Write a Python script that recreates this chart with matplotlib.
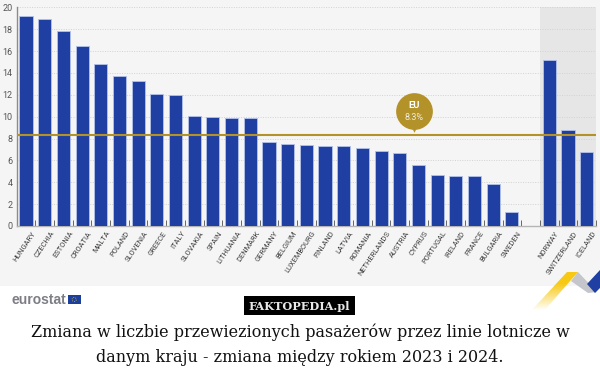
import numpy as np
import matplotlib
matplotlib.use("Agg")
import matplotlib.pyplot as plt
from matplotlib.patches import Polygon, Rectangle
from matplotlib.transforms import ScaledTranslation

# --- data ---
countries = ["HUNGARY", "CZECHIA", "ESTONIA", "CROATIA", "MALTA", "POLAND", "SLOVENIA",
             "GREECE", "ITALY", "SLOVAKIA", "SPAIN", "LITHUANIA", "DENMARK", "GERMANY",
             "BELGIUM", "LUXEMBOURG", "FINLAND", "LATVIA", "ROMANIA", "NETHERLANDS",
             "AUSTRIA", "CYPRUS", "PORTUGAL", "IRELAND", "FRANCE", "BULGARIA", "SWEDEN",
             "", "NORWAY", "SWITZERLAND", "ICELAND"]
values = [19.2, 18.9, 17.8, 16.5, 14.8, 13.7, 13.3, 12.1, 12.0, 10.1, 10.0, 9.9, 9.9, 7.7,
          7.5, 7.4, 7.3, 7.3, 7.1, 6.9, 6.7, 5.6, 4.7, 4.6, 4.6, 3.8, 1.3,
          np.nan, 15.2, 8.8, 6.8]
y_ticks = [0, 2, 4, 6, 8, 10, 12, 14, 16, 18, 20]
eu_value = 8.3
caption = ["Zmiana w liczbie przewiezionych pasażerów przez linie lotnicze w",
           "danym kraju - zmiana między rokiem 2023 i 2024."]

W, H = 600, 380
BG = "#f5f5f5"
BLUE = "#1f3fa3"
GOLD = "#b3922a"

fig = plt.figure(figsize=(W / 100, H / 100), dpi=100, facecolor="white")

# pixel canvas for everything around the chart
page = fig.add_axes([0, 0, 1, 1], zorder=0)
page.set_xlim(0, W)
page.set_ylim(H, 0)
page.axis("off")
page.add_patch(Rectangle((0, 0), W, 285.5, color=BG, lw=0))

# ==========================================
# CHART
# ==========================================
left, right, top, bottom = 16.5, 596, 7.3, 226
ax = fig.add_axes([left / W, 1 - bottom / H, (right - left) / W, (bottom - top) / H], zorder=1)
ax.patch.set_alpha(0)

x = np.arange(len(countries))
ax.axvspan(27.49, 30.48, color="#e6e6e6", lw=0, zorder=0)
ax.bar(x, values, width=0.7, color=BLUE, edgecolor="#b4c2ea", linewidth=0.6, zorder=3)
ax.axhline(eu_value, color=GOLD, lw=1.5, zorder=4)

ax.set_xlim(-0.51, 30.48)
ax.set_ylim(0, 20)
ax.set_yticks(y_ticks)
ax.grid(axis="y", color="#d2d2d2", linestyle=(0, (1, 1.5)), linewidth=0.7, zorder=1)
ax.set_axisbelow(True)
ax.tick_params(axis="y", length=0, pad=3, labelsize=6.5, labelcolor="#555555")
for lab in ax.get_yticklabels():
    lab.set_family("Roboto")

ax.set_xticks(x)
ax.set_xticklabels(countries, rotation=56, ha="right", va="top", rotation_mode="anchor",
                   fontsize=5.4, color="#3c3c3c", family="Roboto")
ax.tick_params(axis="x", which="major", length=0, pad=3)
# labels end a little right of the bar centre
shift = ScaledTranslation(4 / 72, 0, fig.dpi_scale_trans)
for lab in ax.get_xticklabels():
    lab.set_transform(lab.get_transform() + shift)
ax.set_xticks(x + 0.5, minor=True)
ax.tick_params(axis="x", which="minor", direction="in", length=4.5, width=0.7, color="#666666")

for side in ["top", "right"]:
    ax.spines[side].set_visible(False)
ax.spines["left"].set_color("#8c8c8c")
ax.spines["bottom"].set_color("#b5b5b5")
ax.spines["left"].set_linewidth(1)
ax.spines["bottom"].set_linewidth(1)

# EU pin
pin_x = 20.75
ax.scatter([pin_x], [10.5], s=700, color=GOLD, lw=0, zorder=5)
ax.scatter([pin_x], [8.95], s=38, marker="v", color=GOLD, lw=0, zorder=5)
ax.text(pin_x, 11.05, "EU", color="white", fontsize=6.8, fontweight="bold", ha="center",
        va="center", family="Roboto", zorder=6)
ax.text(pin_x, 9.95, f"{eu_value}%", color="#f3ecd4", fontsize=6.5, ha="center", va="center",
        family="Roboto", zorder=6)

# ==========================================
# FOOTER
# ==========================================
over = fig.add_axes([0, 0, 1, 1], zorder=2)
over.set_xlim(0, W)
over.set_ylim(H, 0)
over.axis("off")

over.text(11, 300.5, "eurostat", color="#7d7d85", fontsize=10, fontweight="bold",
          family=["Liberation Sans", "DejaVu Sans"], ha="left", va="center")
over.add_patch(Rectangle((67.5, 295), 13.5, 9, color="#1c3f9c", lw=0))
over.scatter([74.2], [299.5], s=9, facecolors="none", edgecolors="#e8c93a", lw=0.6, linestyle=":")

over.add_patch(Rectangle((244, 296), 111, 19, color="#000000", lw=0))
over.text(299.5, 306, "FAKTOPEDIA.pl", color="#e8e8e8", fontsize=8.1, fontweight="bold",
          family="DejaVu Serif", ha="center", va="center")

# ribbon, the yellow part fades out towards the bottom
yellow = Polygon([(567, 272), (578, 272), (543, 312), (530, 312)], transform=over.transData,
                 facecolor="none", edgecolor="none")
over.add_patch(yellow)
fade = np.zeros((64, 2, 4))
fade[..., :3] = matplotlib.colors.to_rgb("#f8c913")
fade[..., 3] = np.clip(np.linspace(1.4, -0.05, 64), 0, 1)[:, None]
img = over.imshow(fade, extent=(528, 580, 312, 272), aspect="auto", zorder=2)
img.set_clip_path(yellow)
over.set_xlim(0, W)
over.set_ylim(H, 0)
over.add_patch(Polygon([(571, 281), (578, 272), (597, 292), (588, 293)], color="#c4c6cb", lw=0))
over.add_patch(Polygon([(587, 284), (600, 270), (600, 288), (595, 293)], color="#1f3fa3", lw=0))

for line, y in zip(caption, [332.5, 358]):
    over.text(W / 2, y, line, color="#111111", fontsize=11.55, family="DejaVu Serif",
              ha="center", va="center")

fig.savefig("out.png", dpi=100)
